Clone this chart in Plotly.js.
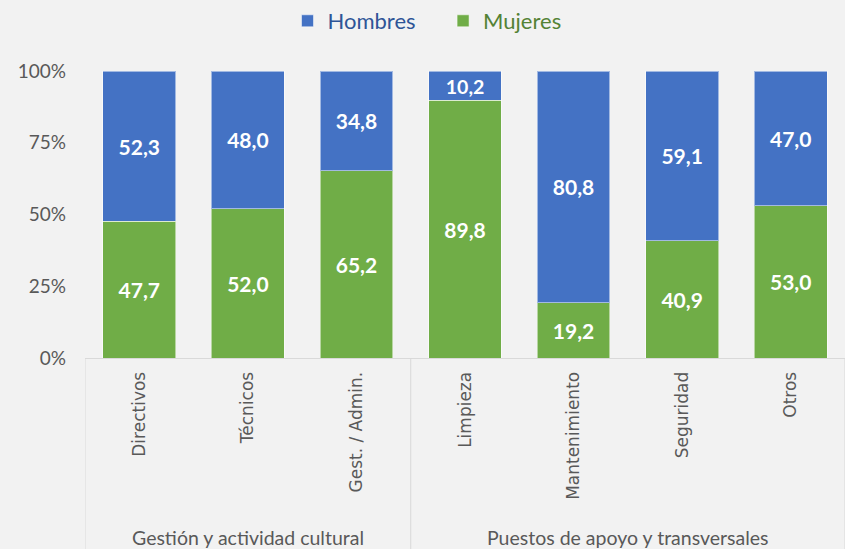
<!DOCTYPE html>
<html>
<head>
<meta charset="utf-8">
<script src="https://cdn.plot.ly/plotly-3.0.1.min.js"></script>
<style>html,body{margin:0;padding:0;background:#f2f2f2;}#chart{width:845px;height:549px;}</style>
</head>
<body>
<div id="chart"></div>
<script>
const categories = ["Directivos", "Técnicos", "Gest. / Admin.", "Limpieza", "Mantenimiento", "Seguridad", "Otros"];
const mujeres = [47.7, 52.0, 65.2, 89.8, 19.2, 40.9, 53.0];
const hombres = [52.3, 48.0, 34.8, 10.2, 80.8, 59.1, 47.0];
const groups = ["Gestión y actividad cultural", "Puestos de apoyo y transversales"];
const groupStart = [0, 3];
const groupEnd = [2, 6];
const yTicks = [0, 25, 50, 75, 100];
const yTickText = yTicks.map(v => v + "%");

const labelFont = {family: "Lato, 'Open Sans', sans-serif", size: 21, color: "#ffffff", weight: 700};
const common = {
  type: "bar",
  x: categories,
  texttemplate: "<b>%{y:.1f}</b>",
  textposition: "inside",
  insidetextanchor: "middle",
  textangle: 0,
  textfont: labelFont,
  hoverinfo: "skip"
};
const traces = [
  Object.assign({}, common, {name: '<span style="color:#548235">Mujeres</span>', y: mujeres,
    marker: {color: "#70AD47", line: {color: "rgba(255,255,255,0.5)", width: 1}}}),
  Object.assign({}, common, {name: '<span style="color:#2F5597">Hombres</span>\u00A0\u00A0\u00A0\u00A0', y: hombres,
    marker: {color: "#4472C4", line: {color: "rgba(255,255,255,0.5)", width: 1}}})
];

const shapes = [];
const dividers = [-0.5, 2.5, 6.5];
dividers.forEach(d => shapes.push({type: "line", xref: "x", yref: "paper", x0: d, x1: d, y0: 0, y1: -191/287,
  line: {color: "#d9d9d9", width: 1}}));

const annotations = groups.map((g, i) => ({
  text: g, xref: "x", yref: "paper", x: (groupStart[i] + groupEnd[i]) / 2, y: -179/287,
  showarrow: false, yanchor: "middle", xanchor: "center",
  font: {family: "Lato, 'Open Sans', sans-serif", size: 19.5, color: "#595959"}
}));

const layout = {
  width: 845, height: 549,
  paper_bgcolor: "#f2f2f2", plot_bgcolor: "#f2f2f2",
  margin: {l: 85, r: 0, t: 71, b: 191},
  barmode: "stack",
  bargap: 0.33,
  separators: ",.",
  showlegend: true,
  legend: {orientation: "h", x: 0.45, xanchor: "center", y: 1.175, yanchor: "middle",
    font: {family: "Lato, 'Open Sans', sans-serif", size: 22, color: "#2F5597"}, itemwidth: 30},
  xaxis: {
    type: "category", range: [-0.5, 6.5], tickangle: -90, showgrid: false,
    showline: true, linecolor: "#d9d9d9", linewidth: 1, ticks: "",
    ticklabelstandoff: 6,
    tickfont: {family: "'DejaVu Sans', sans-serif", size: 17, color: "#595959"},
    fixedrange: true
  },
  yaxis: {
    range: [0, 100], tickmode: "array", tickvals: yTicks, ticktext: yTickText,
    showgrid: false, zeroline: false, showline: false, ticks: "",
    ticklabelstandoff: 18,
    tickfont: {family: "Lato, 'Open Sans', sans-serif", size: 19, color: "#595959"},
    fixedrange: true
  },
  shapes: shapes,
  annotations: annotations
};
Plotly.newPlot("chart", traces, layout, {displayModeBar: false, staticPlot: true});
</script>
</body>
</html>
